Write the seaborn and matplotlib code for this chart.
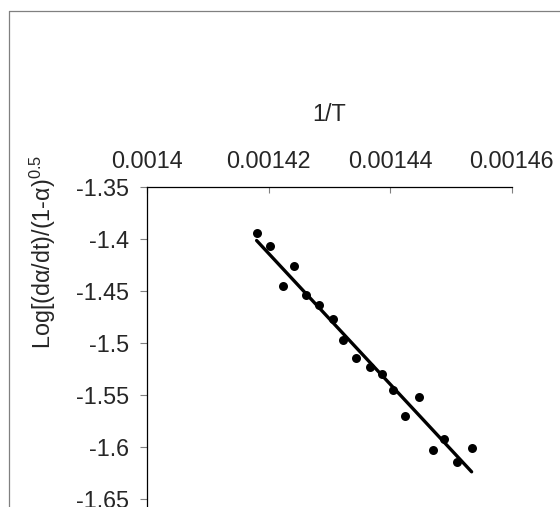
import numpy as np
import pandas as pd
import seaborn as sns
import matplotlib.pyplot as plt
from matplotlib.lines import Line2D

sns.set_style("white")
plt.rcParams['font.family'] = ['Liberation Sans', 'DejaVu Sans']
plt.rcParams['mathtext.fontset'] = 'custom'
plt.rcParams['mathtext.rm'] = 'Liberation Sans'
plt.rcParams['mathtext.it'] = 'Liberation Sans:italic'

# 1/T and log rate values
inv_T = [0.0014180, 0.0014202, 0.0014223, 0.0014242, 0.0014262, 0.0014283,
         0.0014305, 0.0014322, 0.0014344, 0.0014366, 0.0014386, 0.0014405,
         0.0014424, 0.0014448, 0.0014471, 0.0014489, 0.0014510, 0.0014534]
log_rate = [-1.3937, -1.4065, -1.4450, -1.4255, -1.4541, -1.4633,
            -1.4768, -1.4970, -1.5146, -1.5227, -1.5297, -1.5451,
            -1.5701, -1.5523, -1.6024, -1.5927, -1.6144, -1.6006]

x_ticks = [0.0014, 0.00142, 0.00144, 0.00146]
x_ticklabels = ["0.0014", "0.00142", "0.00144", "0.00146"]
y_ticks = [-1.35, -1.4, -1.45, -1.5, -1.55, -1.6, -1.65]
y_ticklabels = ["-1.35", "-1.4", "-1.45", "-1.5", "-1.55", "-1.6", "-1.65"]

df = pd.DataFrame({"invT": inv_T, "lograte": log_rate})

fig = plt.figure(figsize=(5.6, 5.07), dpi=100)
ax = fig.add_axes([147.3 / 560, 0, 364.4 / 560, 1 - 187.3 / 507])

sns.regplot(x="invT", y="lograte", data=df, ax=ax, ci=None, color="black",
            scatter_kws={"s": 42, "linewidths": 0, "alpha": 1, "zorder": 3},
            line_kws={"lw": 2.4, "solid_capstyle": "round"})

ax.set_xlim(0.0014, 0.00146)
ax.set_ylim(-1.6577, -1.35)
ax.set_xticks(x_ticks)
ax.set_xticklabels(x_ticklabels)
ax.set_yticks(y_ticks)
ax.set_yticklabels(y_ticklabels)

fs = 16.8
ax.xaxis.tick_top()
ax.xaxis.set_label_position("top")
ax.tick_params(axis="x", direction="in", length=4.3, width=0.8, color="#808080",
               labelsize=fs, pad=10, top=True, bottom=False)
ax.tick_params(axis="y", direction="out", length=5, width=0.8, color="#808080",
               labelsize=fs, pad=8, left=True)

for side in ["right", "bottom"]:
    ax.spines[side].set_visible(False)
for side in ["top", "left"]:
    ax.spines[side].set_color("black")
    ax.spines[side].set_linewidth(0.9)

ax.set_xlabel("1/T", fontsize=fs, labelpad=21)
ax.set_ylabel("Log[(dα/dt)/(1-α)$^{0.5}$", fontsize=fs)
ax.yaxis.set_label_coords(-0.245, 0.797)

# chart area border, cut off at right and bottom
fig.add_artist(Line2D([8.5 / 560, 8.5 / 560], [0, 1 - 11 / 507], color="#808080", lw=0.9))
fig.add_artist(Line2D([8.5 / 560, 1], [1 - 11 / 507, 1 - 11 / 507], color="#808080", lw=0.9))

fig.savefig("out.png", dpi=100)
